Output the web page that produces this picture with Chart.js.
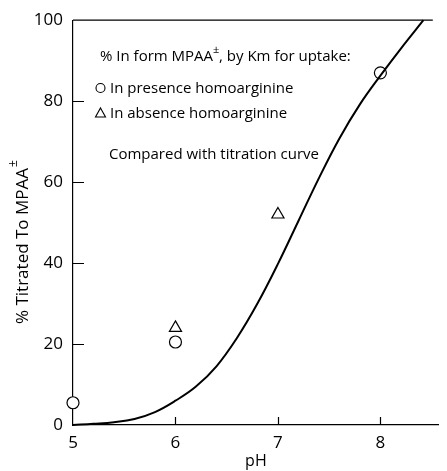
<!DOCTYPE html>
<html>
<head>
<meta charset="utf-8">
<script src="https://cdn.jsdelivr.net/npm/chart.js@4"></script>
<style>
  body { margin: 0; background: #fff; }
  #wrap { width: 447px; height: 471px; }
</style>
</head>
<body>
<div id="wrap"><canvas id="phChart"></canvas></div>
<script>
// titration curve
const curvePH  = [5.0, 5.2, 5.4, 5.6, 5.8, 6.0, 6.2, 6.4, 6.6, 6.8, 7.0, 7.2, 7.4, 7.6, 7.8, 8.0, 8.2, 8.42];
const curvePct = [0, 0.3, 0.7, 1.5, 3.2, 6.0, 9.5, 14.5, 21.5, 30, 39.8, 50.4, 61, 70.8, 79.2, 86.3, 93, 100];

// measured points
const presencePH  = [5, 6, 8];
const presencePct = [5.5, 20.5, 87];
const absencePH   = [6, 7];
const absencePct  = [24, 52];

const xTicks = [5, 6, 7, 8];
const yTicks = [0, 20, 40, 60, 80, 100];

const FONT = "'Open Sans', 'DejaVu Sans', sans-serif";

const toXY = (xs, ys) => xs.map((x, i) => ({ x: x, y: ys[i] }));

// inner ticks, top border, y title and the key text
const decor = {
    id: 'decor',
    afterDraw(chart) {
        const ctx = chart.ctx;
        const xs = chart.scales.x, ys = chart.scales.y;
        const a = chart.chartArea;
        ctx.save();
        ctx.strokeStyle = '#000';
        ctx.lineWidth = 1.2;
        ctx.beginPath();
        ctx.moveTo(a.left, a.top);
        ctx.lineTo(a.right - 6, a.top);
        yTicks.slice(1, -1).forEach(v => {
            const py = Math.round(ys.getPixelForValue(v)) + 0.5;
            ctx.moveTo(a.left, py);
            ctx.lineTo(a.left + 11, py);
        });
        xTicks.slice(1).forEach(v => {
            const px = Math.round(xs.getPixelForValue(v)) + 0.5;
            ctx.moveTo(px, a.bottom);
            ctx.lineTo(px, a.bottom - 8);
        });
        ctx.stroke();

        // y axis title, rotated
        ctx.fillStyle = '#000';
        ctx.save();
        ctx.translate(23, 242);
        ctx.rotate(-Math.PI / 2);
        ctx.font = '17px ' + FONT;
        ctx.textBaseline = 'middle';
        const main = '% Titrated To MPAA';
        const w = ctx.measureText(main).width;
        ctx.textAlign = 'left';
        ctx.fillText(main, -w / 2 - 4, 0);
        ctx.font = '12px ' + FONT;
        ctx.fillText('±', w / 2 - 3, -9);
        ctx.restore();

        // key text
        ctx.font = '15px ' + FONT;
        ctx.textBaseline = 'middle';
        ctx.textAlign = 'left';
        const t1 = '% In form MPAA';
        ctx.fillText(t1, 100, 57);
        const w1 = ctx.measureText(t1).width;
        ctx.font = '11px ' + FONT;
        ctx.fillText('±', 100 + w1, 50);
        ctx.font = '15px ' + FONT;
        ctx.fillText(', by Km for uptake:', 100 + w1 + 6, 57);
        ctx.fillText('In presence homoarginine', 110, 89);
        ctx.fillText('In absence homoarginine', 110, 114);
        ctx.fillText('Compared with titration curve', 109, 155);

        ctx.lineWidth = 1.1;
        ctx.beginPath();
        ctx.arc(100.5, 88, 4.5, 0, Math.PI * 2);
        ctx.stroke();
        ctx.beginPath();
        ctx.moveTo(100.5, 108);
        ctx.lineTo(105.5, 117);
        ctx.lineTo(95.5, 117);
        ctx.closePath();
        ctx.stroke();
        ctx.restore();
    }
};

new Chart(document.getElementById('phChart'), {
    type: 'scatter',
    data: {
        datasets: [
            {
                label: 'Titration curve',
                data: toXY(curvePH, curvePct),
                showLine: true,
                borderColor: '#000',
                borderWidth: 2,
                pointRadius: 0,
                tension: 0.4,
                clip: 2
            },
            {
                label: 'In presence homoarginine',
                data: toXY(presencePH, presencePct),
                pointStyle: 'circle',
                pointRadius: 6,
                borderColor: '#000',
                backgroundColor: '#fff',
                borderWidth: 1.2,
                clip: false
            },
            {
                label: 'In absence homoarginine',
                data: toXY(absencePH, absencePct),
                pointStyle: 'triangle',
                pointRadius: 7,
                borderColor: '#000',
                backgroundColor: '#fff',
                borderWidth: 1.2,
                clip: false
            }
        ]
    },
    options: {
        responsive: true,
        maintainAspectRatio: false,
        animation: false,
        layout: { padding: { top: 15, right: 0, left: 0, bottom: 0 } },
        plugins: {
            legend: { display: false },
            tooltip: { enabled: false }
        },
        scales: {
            x: {
                type: 'linear',
                min: 5,
                max: 8.57,
                afterBuildTicks: s => { s.ticks = xTicks.map(v => ({ value: v })); },
                afterFit: s => { s.height = 46; },
                grid: { display: false, drawTicks: false },
                border: { display: true, color: '#000', width: 1.2 },
                ticks: { color: '#000', padding: 8, font: { family: FONT, size: 17 } },
                title: { display: true, text: 'pH', color: '#000', padding: 0, font: { family: FONT, size: 16 } }
            },
            y: {
                min: 0,
                max: 100,
                afterBuildTicks: s => { s.ticks = yTicks.map(v => ({ value: v })); },
                afterFit: s => { s.width = 73; },
                grid: { display: false, drawTicks: false },
                border: { display: true, color: '#000', width: 1.2 },
                ticks: { color: '#000', padding: 10, font: { family: FONT, size: 17 } }
            }
        }
    },
    plugins: [decor]
});
</script>
</body>
</html>
